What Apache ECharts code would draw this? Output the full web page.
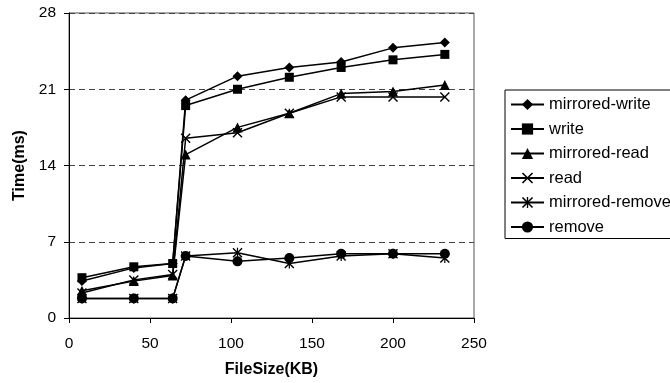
<!DOCTYPE html>
<html>
<head>
<meta charset="utf-8">
<script src="https://cdn.jsdelivr.net/npm/echarts@6/dist/echarts.min.js"></script>
<style>
  html, body { margin: 0; padding: 0; background: #fff; }
  #main { width: 670px; height: 383px; }
</style>
</head>
<body>
<div id="main"></div>
<script>
// file sizes (KB) on the x axis
var fileSizes = [8, 40, 64, 72, 104, 136, 168, 200, 232];

// times in ms
var mirroredWrite  = [3.4, 4.6, 5.0, 20.0, 22.2, 23.0, 23.5, 24.8, 25.3];
var write          = [3.7, 4.7, 5.0, 19.5, 21.0, 22.1, 23.0, 23.7, 24.2];
var mirroredRead   = [2.5, 3.4, 3.9, 15.0, 17.5, 18.8, 20.6, 20.8, 21.4];
var read           = [2.3, 3.5, 4.0, 16.5, 17.0, 18.8, 20.3, 20.3, 20.3];
var mirroredRemove = [1.8, 1.8, 1.8, 5.7, 6.0, 5.0, 5.7, 5.9, 5.5];
var remove         = [1.8, 1.8, 1.8, 5.7, 5.2, 5.5, 5.9, 5.9, 5.9];

var seriesNames = ['mirrored-write', 'write', 'mirrored-read', 'read', 'mirrored-remove', 'remove'];
var seriesData = [mirroredWrite, write, mirroredRead, read, mirroredRemove, remove];

var crossPath = 'path://M0,1L1,0L10,9L9,10ZM9,0L10,1L1,10L0,9Z';
var starPath = 'path://M0,1L1,0L10,9L9,10ZM9,0L10,1L1,10L0,9ZM4.4,0L5.6,0L5.6,10L4.4,10Z';
var symbols = ['diamond', 'rect', 'triangle', crossPath, starPath, 'circle'];
var sizes = [10, 9, 10, 10, 10, 10];

var font = 'Liberation Sans, Arial, sans-serif';

var chart = echarts.init(document.getElementById('main'));

var series = seriesNames.map(function (name, i) {
    return {
        name: name,
        type: 'line',
        data: fileSizes.map(function (x, j) { return [x, seriesData[i][j]]; }),
        symbol: symbols[i],
        symbolSize: sizes[i],
        showAllSymbol: true,
        lineStyle: { color: '#000', width: 1.5 },
        itemStyle: { color: '#000' },
        animation: false
    };
});

chart.setOption({
    animation: false,
    grid: {
        left: 69, right: 196, top: 13, bottom: 65,
        show: true,
        borderColor: '#555',
        borderWidth: 1
    },
    legend: {
        orient: 'vertical',
        left: 505,
        top: 90,
        padding: [6, 20, 3, 5],
        itemGap: 7.5,
        itemWidth: 33,
        itemHeight: 14,
        borderColor: '#000',
        borderWidth: 1,
        textStyle: { fontFamily: font, fontSize: 16.5, color: '#000' },
        data: seriesNames
    },
    xAxis: {
        type: 'value',
        min: 0, max: 250, interval: 50,
        name: 'FileSize(KB)',
        nameLocation: 'middle',
        nameGap: 44,
        nameTextStyle: { fontFamily: font, fontSize: 16, fontWeight: 'bold', color: '#000' },
        axisLine: { lineStyle: { color: '#000', width: 1 } },
        axisTick: { show: true, length: 5, lineStyle: { color: '#000' } },
        axisLabel: { fontFamily: font, fontSize: 15.5, color: '#000', margin: 18 },
        splitLine: { show: false }
    },
    yAxis: {
        type: 'value',
        min: 0, max: 28, interval: 7,
        name: 'Time(ms)',
        nameLocation: 'middle',
        nameGap: 41,
        nameTextStyle: { fontFamily: font, fontSize: 16, fontWeight: 'bold', color: '#000' },
        axisLine: { show: true, lineStyle: { color: '#000', width: 1 } },
        axisTick: { show: true, length: 5, lineStyle: { color: '#000' } },
        axisLabel: { fontFamily: font, fontSize: 15.5, color: '#000', margin: 13 },
        splitLine: { show: true, lineStyle: { color: '#444', type: [6, 4], width: 1 } }
    },
    series: series
});
</script>
</body>
</html>
